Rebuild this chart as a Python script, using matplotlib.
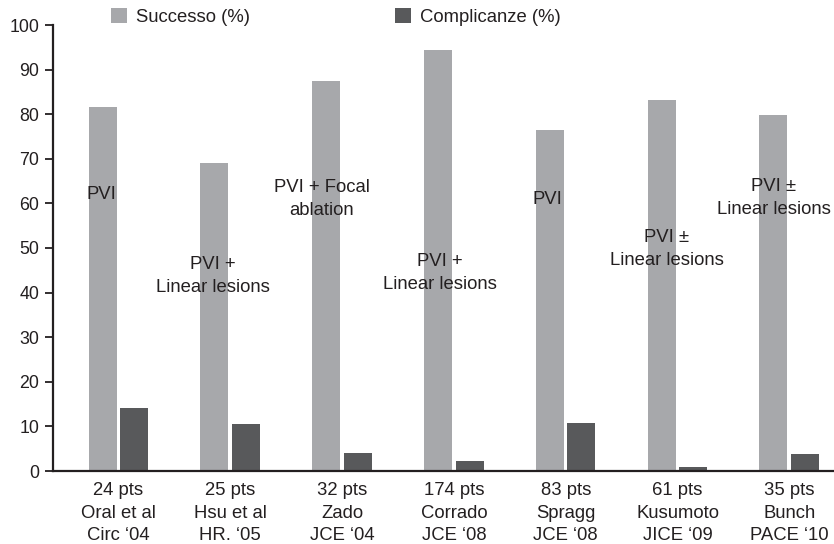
import matplotlib
matplotlib.use("Agg")
import matplotlib.pyplot as plt
import numpy as np
from matplotlib.patches import Patch

categories = ["24 pts\nOral et al\nCirc \u201804", "25 pts\nHsu et al\nHR. \u201805",
              "32 pts\nZado\nJCE \u201804", "174 pts\nCorrado\nJCE \u201808",
              "83 pts\nSpragg\nJCE \u201808", "61 pts\nKusumoto\nJICE \u201809",
              "35 pts\nBunch\nPACE \u201810"]
successo = [81.6, 69.1, 87.5, 94.4, 76.4, 83.2, 79.9]
complicanze = [14.2, 10.5, 4.1, 2.3, 10.7, 0.9, 3.9]
series_names = ["Successo (%)", "Complicanze (%)"]
annotations = ["PVI", "PVI +\nLinear lesions", "PVI + Focal\nablation", "PVI +\nLinear lesions",
               "PVI", "PVI \u00b1\nLinear lesions", "PVI \u00b1\nLinear lesions"]
ann_y = [61.9, 43.8, 61.0, 44.4, 60.8, 49.8, 61.3]
ann_dx = [-0.15, -0.155, -0.18, -0.124, -0.16, -0.094, -0.14]

plt.rcParams['font.family'] = ['Liberation Sans', 'DejaVu Sans']
TXT = '#231f20'
LIGHT = '#a7a8ab'
DARK = '#58595b'
FS = 13.3

fig = plt.figure(figsize=(8.34, 5.44), dpi=100)
ax = fig.add_axes([53/834, 1-471/544, 1-53/834, (471-25)/544])

x = np.arange(len(categories))
w = 0.25
ax.bar(x - 0.142, successo, width=w, color=LIGHT, label=series_names[0], zorder=2)
ax.bar(x + 0.14, complicanze, width=w, color=DARK, label=series_names[1], zorder=2)

for i, t in enumerate(annotations):
    ax.text(x[i] + ann_dx[i], ann_y[i], t, ha='center', va='center', fontsize=FS,
            color=TXT, linespacing=1.45, zorder=3)

ax.set_ylim(0, 100)
ax.set_xlim((53-118.5)/111.8, (834-118.5)/111.8)
ax.set_yticks(np.arange(0, 101, 10))
ax.set_xticks(x)
ax.set_xticklabels(categories, fontsize=FS, color=TXT, linespacing=1.42)
ax.tick_params(axis='x', length=0, pad=8)
ax.tick_params(axis='y', length=6, width=1.3, colors=TXT, labelsize=12.8, pad=4, direction='out')
for s in ['top', 'right']:
    ax.spines[s].set_visible(False)
for s in ['left', 'bottom']:
    ax.spines[s].set_linewidth(1.6)
    ax.spines[s].set_color(TXT)

h1 = Patch(facecolor=LIGHT, edgecolor='none')
h2 = Patch(facecolor=DARK, edgecolor='none')
for h, name, xl in [(h1, series_names[0], 111), (h2, series_names[1], 395)]:
    fig.legend([h], [name], loc='upper left', bbox_to_anchor=(xl/834, 1-8/544),
               frameon=False, fontsize=FS, handlelength=0.88, handleheight=0.88,
               handletextpad=0.5, borderpad=0, borderaxespad=0, labelcolor=TXT)

fig.savefig("out.png", dpi=100)
